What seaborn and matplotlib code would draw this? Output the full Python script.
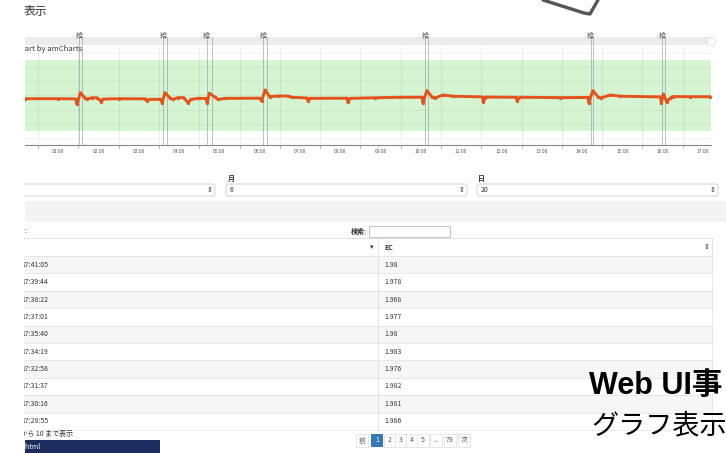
import matplotlib
matplotlib.use("Agg")
import matplotlib.pyplot as plt
import matplotlib.patches as mpatches
import pandas as pd
import seaborn as sns

# EC readings (time of day, value)
line_times = ["00:41", "01:30", "01:56", "01:58", "02:03", "02:10", "02:13", "02:20", "02:28", "02:32",
              "02:34", "02:37", "03:00", "03:40", "03:42", "03:45", "04:02", "04:05", "04:09", "04:17",
              "04:21", "04:28", "04:37", "04:43", "04:48", "04:58", "05:10", "05:12", "05:15", "05:24",
              "05:28", "05:40", "06:30", "06:33", "06:38", "06:45", "06:57", "07:12", "07:18", "07:40",
              "07:42", "07:45", "08:40", "08:41", "08:45", "09:22", "09:59", "10:32", "10:33", "10:39",
              "10:47", "10:51", "11:03", "11:18", "12:02", "12:03", "12:07", "12:52", "12:53", "12:58",
              "13:57", "14:39", "14:40", "14:46", "14:54", "14:58", "15:12", "15:27", "16:27", "16:28",
              "16:31", "16:36", "16:41", "16:45", "17:11", "17:41"]
line_ec = [1.955, 1.955, 1.953, 1.876, 2.039, 1.965, 1.950, 1.968, 1.968, 1.937,
           1.915, 1.950, 1.955, 1.953, 1.925, 1.945, 1.947, 1.899, 2.039, 1.960,
           1.945, 1.970, 1.970, 1.899, 1.945, 1.960, 1.958, 1.890, 2.031, 1.975,
           1.945, 1.960, 1.962, 1.923, 2.077, 1.985, 1.993, 1.993, 1.975, 1.965,
           1.923, 1.960, 1.962, 1.908, 1.960, 1.968, 1.975, 1.975, 1.899, 2.068,
           1.975, 1.965, 2.007, 1.990, 1.980, 1.913, 1.978, 1.975, 1.927, 1.975,
           1.970, 1.972, 1.899, 2.068, 1.980, 1.965, 2.007, 1.990, 1.980, 1.890,
           2.021, 1.913, 1.960, 1.985, 1.983, 1.983]

# feeding events (start / end)
event_start = ["02:01", "04:06", "05:11", "06:35", "10:36", "14:43", "16:29"]
event_end = ["02:06", "04:12", "05:19", "06:41", "10:41", "14:46", "16:33"]
event_label = "給"

guide_low, guide_high = 1.5, 2.5
hour_labels = ["01:00", "02:00", "03:00", "04:00", "05:00", "06:00", "07:00", "08:00", "09:00",
               "10:00", "11:00", "12:00", "13:00", "14:00", "15:00", "16:00", "17:00"]

# table
table_times = ["17:41:05", "17:39:44", "17:38:22", "17:37:01", "17:35:40",
               "17:34:19", "17:32:58", "17:31:37", "17:30:16", "17:28:55"]
table_ec = ["1.98", "1.978", "1.968", "1.977", "1.98", "1.983", "1.976", "1.982", "1.981", "1.986"]
pages = ["前", "1", "2", "3", "4", "5", "...", "79", "次"]


def to_hours(values):
    return list(pd.to_timedelta([v + ":00" for v in values]) / pd.Timedelta(hours=1))


sns.set_theme(style="white")
plt.rcParams['font.family'] = ['Noto Sans CJK JP', 'DejaVu Sans']

df = pd.DataFrame({"hour": to_hours(line_times), "EC": line_ec})

fig = plt.figure(figsize=(7.26, 4.53), dpi=100)
W, H = 726, 453

# page background drawn in pixel coordinates
bg = fig.add_axes([0, 0, 1, 1])
bg.set_xlim(0, W)
bg.set_ylim(H, 0)
bg.axis("off")

# title, device outline
bg.text(24, 12, "表示", ha="left", va="center", fontsize=8.5, color="#333333")
bg.plot([543, 584, 590, 598], [0, 13, 14, 0], color="#555555", lw=2.4, solid_capstyle="round")

# select boxes
bg.text(228, 178, "月", fontsize=5, va="center", color="#333333", fontweight="bold")
bg.text(478, 178, "日", fontsize=5, va="center", color="#333333", fontweight="bold")
for x0, x1, val in [(10, 215, ""), (226, 467, "6"), (477, 718, "20")]:
    bg.add_patch(mpatches.FancyBboxPatch((x0, 184), x1 - x0, 12, boxstyle="round,pad=0,rounding_size=2",
                                         fc="white", ec="#cccccc", lw=0.6))
    bg.text(x0 + 4, 190, val, fontsize=5, va="center", color="#333333")
    bg.text(x1 - 5, 190, "⇕", fontsize=5, va="center", ha="center", color="#333333")

# grey band above table
bg.add_patch(mpatches.Rectangle((25, 201), 701, 21, fc="#f3f3f3", ec="none"))

# search
bg.text(26, 231, ":", fontsize=5, va="center", ha="right", color="#333333")
bg.text(367, 231, "検索:", fontsize=5, va="center", ha="right", color="#333333", fontweight="bold")
bg.add_patch(mpatches.Rectangle((369, 226), 81, 11, fc="white", ec="#bbbbbb", lw=0.6))

# table
col_x = 378
row_h = 17.4
head_top = 238
bg.add_patch(mpatches.Rectangle((10, head_top), 702, 18, fc="white", ec="#dddddd", lw=0.6))
bg.text(372, head_top + 9, "▾", fontsize=5, va="center", ha="center", color="#333333")
bg.text(384, head_top + 9, "EC", fontsize=5, va="center", color="#333333", fontweight="bold")
bg.text(707, head_top + 9, "⇕", fontsize=5, va="center", ha="center", color="#333333")
for i, (t, v) in enumerate(zip(table_times, table_ec)):
    y0 = head_top + 18 + i * row_h
    bg.add_patch(mpatches.Rectangle((10, y0), 702, row_h,
                                    fc="#f6f6f6" if i % 2 == 0 else "white", ec="#e3e3e3", lw=0.5))
    bg.text(21, y0 + row_h / 2, t, fontsize=5, va="center", color="#333333")
    bg.text(384, y0 + row_h / 2, v, fontsize=5, va="center", color="#333333")
bg.plot([col_x, col_x], [head_top, head_top + 18 + 10 * row_h], color="#dddddd", lw=0.6)

bg.text(15, 434, "1 から 10 まで表示", fontsize=5, va="center", color="#333333")
bg.add_patch(mpatches.Rectangle((25, 440), 135, 14, fc="#1d2c5e", ec="none"))
bg.text(5, 447, "graph.html", fontsize=5, va="center", color="white", zorder=1)

# pagination
px = [362, 377, 390, 401, 412, 423, 436, 450, 464]
for x, p in zip(px, pages):
    if p == "1":
        bg.add_patch(mpatches.Rectangle((x - 6, 434), 12, 13, fc="#337ab7", ec="none"))
        bg.text(x, 440.5, p, fontsize=5, va="center", ha="center", color="white")
    else:
        bg.add_patch(mpatches.Rectangle((x - 6, 434), 12, 13, fc="white", ec="#dddddd", lw=0.5))
        bg.text(x, 440.5, p, fontsize=5, va="center", ha="center", color="#555555")

# left cut of the screenshot
bg.add_patch(mpatches.Rectangle((0, 20), 23.5, H, fc="white", ec="none", zorder=5))

# overlay caption
bg.text(589, 386, "Web UI事", fontsize=22, va="center", fontweight="bold", color="black", zorder=6,
        family=["Liberation Sans", "Noto Sans CJK JP"])
bg.text(591, 426, "グラフ表示", fontsize=19.5, va="center", color="black", zorder=6)

# chart
ax = fig.add_axes([25 / W, 1 - 145 / H, 686 / W, 112 / H])
ax.set_facecolor("white")
ax.set_xlim(0.677, 17.70)
ax.set_ylim(1.303, 2.880)

ax.axhspan(guide_low, guide_high, color="#d5f4d1", zorder=0.5, lw=0)
ax.axhspan(2.711, 2.824, color="#ececec", zorder=0.6, lw=0)
for yv in [1.4, 1.6, 1.8, 2.0, 2.2, 2.4, 2.6]:
    ax.axhline(yv, color="#000000", alpha=0.06, lw=0.6, zorder=1)
ax.vlines(range(1, 18), 1.303, 2.711, color="#000000", alpha=0.08, lw=0.6, zorder=1)

for s, e in zip(to_hours(event_start), to_hours(event_end)):
    ax.vlines([s, e], 1.303, 2.824, color="#9aa4ae", lw=0.7, alpha=0.7, zorder=1.5)
    ax.text(s, 2.845, event_label, fontsize=5, ha="center", va="center", color="#555555")

sns.lineplot(data=df, x="hour", y="EC", ax=ax, color="#e4531c", lw=2.1,
             marker="o", markersize=2.4, markeredgewidth=0, zorder=3)

ax.text(0.42, 2.655, "Chart by amCharts", fontsize=5.5, va="center", color="#333333", clip_on=True)
ax.plot([17.70], [2.767], marker="o", markersize=6, mfc="white", mec="#dddddd", mew=0.6,
        clip_on=False, zorder=4)

for sp in ["top", "left", "right"]:
    ax.spines[sp].set_visible(False)
ax.spines["bottom"].set_color("#888888")
ax.spines["bottom"].set_linewidth(0.8)
ax.set_xticks(range(1, 18))
ax.set_xticklabels([])
ax.set_xticks([h + 0.5 for h in range(1, 18)], minor=True)
ax.set_xticklabels(hour_labels, minor=True, fontsize=3.5, color="#555555")
ax.tick_params(axis="x", which="major", length=2, width=0.5, color="#888888", bottom=True)
ax.tick_params(axis="x", which="minor", length=0, pad=3)
ax.set_yticks([])
ax.set_xlabel("")
ax.set_ylabel("")

fig.savefig("out.png", dpi=100)
